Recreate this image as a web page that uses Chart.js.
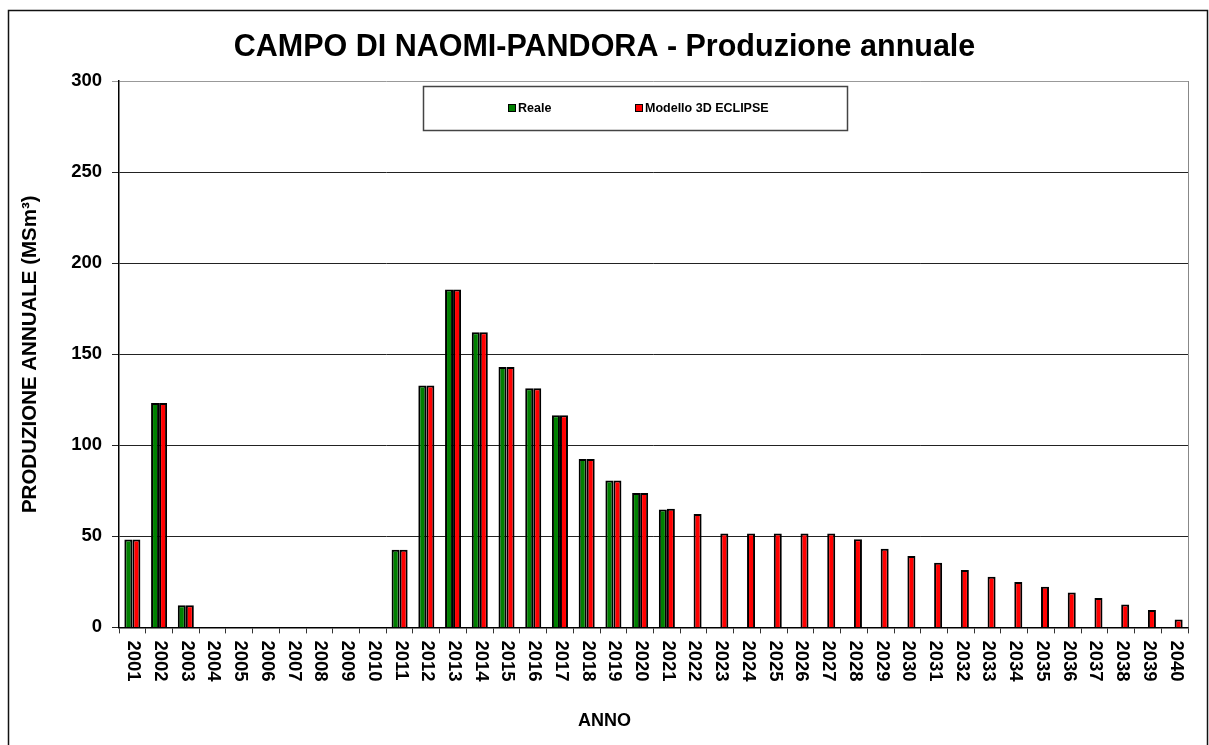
<!DOCTYPE html>
<html>
<head>
<meta charset="utf-8">
<script src="https://cdn.jsdelivr.net/npm/chart.js@4.4.1/dist/chart.umd.min.js"></script>
<style>
html,body{margin:0;padding:0;background:#fff;}
#wrap{width:1209px;height:745px;position:relative;}
</style>
</head>
<body>
<div id="wrap"><canvas id="c" width="1209" height="745"></canvas></div>
<script>
const years = ['2001','2002','2003','2004','2005','2006','2007','2008','2009','2010',
  '2011','2012','2013','2014','2015','2016','2017','2018','2019','2020',
  '2021','2022','2023','2024','2025','2026','2027','2028','2029','2030',
  '2031','2032','2033','2034','2035','2036','2037','2038','2039','2040'];
const reale = [48.2,123.2,12.1,null,null,null,null,null,null,null,
  42.7,132.8,185.5,162.1,143.0,131.3,116.5,92.5,80.6,73.8,
  64.7,null,null,null,null,null,null,null,null,null,
  null,null,null,null,null,null,null,null,null,null];
const modello = [48.2,123.2,12.1,null,null,null,null,null,null,null,
  42.7,132.8,185.5,162.1,143.0,131.3,116.5,92.5,80.6,73.8,
  65.2,62.3,51.5,51.5,51.5,51.5,51.5,48.4,43.2,39.2,
  35.5,31.5,27.8,24.9,22.3,19.2,16.1,12.6,9.5,4.4];
const yTicks = [0,50,100,150,200,250,300];
const titleText = 'CAMPO DI NAOMI-PANDORA - Produzione annuale';
const yTitle = 'PRODUZIONE ANNUALE (MSm\u00B3)';
const xTitle = 'ANNO';

const FONT = 'Arial, "Liberation Sans", Helvetica, sans-serif';

const framePlugin = {
  id: 'frame',
  beforeDraw(chart) {
    const ctx = chart.ctx;
    ctx.save();
    ctx.fillStyle = '#fff';
    ctx.fillRect(0, 0, chart.width, chart.height);
    ctx.restore();
  },
  afterDraw(chart) {
    const ctx = chart.ctx;
    const a = chart.chartArea;
    ctx.save();
    // outer frame
    ctx.strokeStyle = '#111';
    ctx.lineWidth = 1.5;
    ctx.strokeRect(8.5, 10.5, 1199, 760);
    // plot right border
    ctx.strokeStyle = '#888';
    ctx.lineWidth = 1;
    ctx.beginPath();
    ctx.moveTo(Math.round(a.right) + 0.5, a.top);
    ctx.lineTo(Math.round(a.right) + 0.5, a.bottom);
    ctx.stroke();
    // rotated x tick labels (clockwise, reading top-to-bottom)
    const xs = chart.scales.x;
    ctx.fillStyle = '#000';
    ctx.font = 'bold 18.5px ' + FONT;
    ctx.textAlign = 'left';
    ctx.textBaseline = 'middle';
    chart.data.labels.forEach((lab, i) => {
      const x = xs.getPixelForTick(i);
      ctx.save();
      ctx.translate(x + 1, xs.top + 13);
      ctx.rotate(Math.PI / 2);
      ctx.fillText(lab, 0, 0);
      ctx.restore();
    });
    // legend box
    const lx = 423.5, ly = 86.5, lw = 424, lh = 44;
    ctx.strokeStyle = '#444';
    ctx.lineWidth = 1.5;
    ctx.strokeRect(lx, ly, lw, lh);
    const items = [{x: 508}, {x: 635}];
    ctx.font = 'bold 12.5px ' + FONT;
    ctx.textBaseline = 'middle';
    chart.data.datasets.forEach((ds, i) => {
      const ix = items[i].x;
      ctx.fillStyle = ds.backgroundColor;
      ctx.fillRect(ix, 104.5, 7, 7);
      ctx.strokeStyle = '#000';
      ctx.lineWidth = 1;
      ctx.strokeRect(ix + 0.5, 104.5, 7, 7);
      ctx.fillStyle = '#000';
      ctx.fillText(ds.label, ix + 10, 108.5);
    });
    ctx.restore();
  }
};

new Chart(document.getElementById('c'), {
  type: 'bar',
  data: {
    labels: years,
    datasets: [
      {label: 'Reale', data: reale, backgroundColor: '#008000', borderColor: '#000', borderWidth: 2, borderSkipped: 'bottom'},
      {label: 'Modello 3D ECLIPSE', data: modello, backgroundColor: '#FF0000', borderColor: '#000', borderWidth: 2, borderSkipped: 'bottom'}
    ]
  },
  options: {
    responsive: false,
    animation: false,
    devicePixelRatio: 1,
    layout: {padding: {left: 0, right: 0, top: 0, bottom: 0}},
    datasets: {bar: {categoryPercentage: 0.6, barPercentage: 1.0}},
    plugins: {
      legend: {display: false},
      tooltip: {enabled: false},
      title: {
        display: true, text: titleText, color: '#000',
        font: {family: FONT, size: 30.5, weight: 'bold'},
        padding: {top: 29, bottom: 15.4}
      },
      subtitle: {
        display: true, position: 'bottom', text: xTitle, color: '#000',
        font: {family: FONT, size: 18, weight: 'bold'},
        padding: {top: 8, bottom: 13}
      }
    },
    scales: {
      x: {
        type: 'category',
        offset: true,
        grid: {display: true, drawOnChartArea: false, drawTicks: true, tickLength: 6, offset: true, color: '#333', lineWidth: 1},
        border: {display: true, color: '#000', width: 1.5},
        ticks: {display: false},
        afterFit(scale) { scale.height = 75; }
      },
      y: {
        min: 0, max: 300,
        afterBuildTicks(scale) { scale.ticks = yTicks.map(v => ({value: v})); },
        grid: {color: (c) => (c.tick && c.tick.value === 300 ? '#999' : '#222'), lineWidth: 1, tickLength: 7, drawTicks: true},
        border: {display: true, color: '#000', width: 1.5},
        ticks: {color: '#000', padding: 10, font: {family: FONT, size: 18.5, weight: 'bold'}},
        title: {
          display: true, text: yTitle, color: '#000',
          font: {family: FONT, size: 20.5, weight: 'bold'},
          padding: {top: 18, bottom: 0}
        },
        afterFit(scale) { scale.width = 119; }
      },
      yRight: {
        type: 'linear',
        position: 'right',
        display: true,
        grid: {display: false, drawTicks: false},
        border: {display: false},
        ticks: {display: false},
        afterFit(scale) { scale.width = 21; }
      }
    }
  },
  plugins: [framePlugin]
});
</script>
</body>
</html>
